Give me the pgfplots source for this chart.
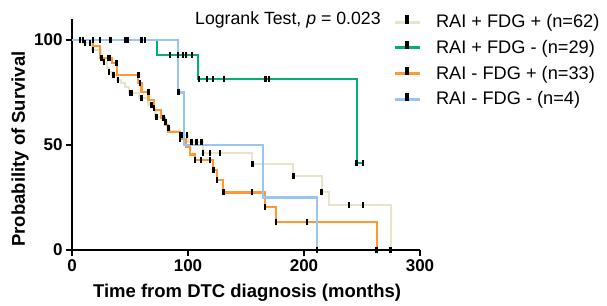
\documentclass[border=0pt]{standalone}
\usepackage{pgfplots}
\pgfplotsset{compat=1.18}
\usepackage{fontspec}
\setmainfont{Liberation Sans}
\definecolor{cbeige}{RGB}{233,227,202}
\definecolor{cgreen}{RGB}{0,177,115}
\definecolor{corange}{RGB}{255,153,51}
\definecolor{cblue}{RGB}{153,197,245}
\begin{document}
\begin{tikzpicture}
\path[use as bounding box] (-72pt,-55pt) rectangle (535pt,250pt);
\begin{axis}[
  at={(0,0)}, anchor=south west,
  scale only axis, width=348pt, height=231pt,
  xmin=0, xmax=300, ymin=0, ymax=110,
  clip=false,
  axis x line*=bottom, axis y line*=left,
  axis line style={line width=1.6pt, -},
  tick style={line width=1.6pt, black},
  major tick length=6pt, tick align=outside,
  xtick={0,100,200,300}, ytick={0,50,100},
  /pgf/number format/assume math mode=true,
  ticklabel style={font=\fontsize{17}{20}\selectfont\bfseries},
  xlabel={Time from DTC diagnosis (months)},
  ylabel={Probability of Survival},
  xlabel style={font=\fontsize{18.5}{22}\selectfont\bfseries, at={(axis description cs:0.503,-0.186)}, anchor=center},
  ylabel style={font=\fontsize{18.5}{22}\selectfont\bfseries, at={(axis description cs:-0.149,0.437)}, anchor=center},
  legend style={at={(0.922,1.028)}, anchor=north west, draw=none, fill=none,
    font=\fontsize{18.2}{21}\selectfont, row sep=7pt, inner sep=0pt,
    /tikz/every odd column/.append style={column sep=13pt}},
  legend cell align=left,
  legend image code/.code={
    \draw[#1, line width=3pt] (0pt,0pt) -- (25pt,0pt);
    \fill[black] (11.3pt,-0.5pt) rectangle (13.7pt,5.5pt);
  },
]
\addplot[cbeige, line width=2.2pt, const plot] coordinates {
(0,100) (10,98.4) (17,95.2) (25,91.3) (27,89.7) (30,86.5) (32,84.9) (35,83.3) (39,81) (42,79.4) (46,77.5) (49,74.6) (58,72.2) (66,69) (70,67.5) (72,63.5) (80,61.1) (82,58) (84,56.7) (93,54.8) (100,51.6) (113,46.3) (155.5,40.8) (190.8,35.2) (215.2,27.8) (221.8,21.4) (274.7,0)};
\addlegendentry{RAI + FDG + (n=62)}
\addplot[cgreen, line width=2.2pt, const plot] coordinates {
(0,100) (73,92.9) (108.6,81.3) (245.4,41.3) (251,41.3)};
\addlegendentry{RAI + FDG - (n=29)}
\addplot[corange, line width=2.2pt, const plot] coordinates {
(0,100) (18,97) (24,91.6) (34.5,88.9) (39,83.3) (57,79.4) (60,75.4) (66,71.4) (71,66.7) (77,63) (80,59.5) (83,56.3) (93,52.9) (98,49) (102,45.5) (106,42.9) (121.8,38.1) (125,33.3) (130.4,27.4) (166.4,20.3) (175.9,13.5) (262.6,0)};
\addlegendentry{RAI - FDG + (n=33)}
\addplot[cblue, line width=2.2pt, const plot] coordinates {
(0,100) (91.6,75) (96.5,50) (164.7,25) (211,0)};
\addlegendentry{RAI - FDG - (n=4)}
% censor marks
\addplot[forget plot, only marks, mark=|, mark size=3pt, mark options={black, line width=2.5pt}] coordinates {
(11,98.4)(15.5,98.4)(18,95.2)(25.6,91.3)(27.5,89.7)(32,84.9)(35.6,83.3)(39.5,81)(50,74.6)(51.5,74.6)(60,72.2)(68.7,69)(70.5,67.5)(73,63.5)(80.5,61.1)(83,58)(93,54.8)(95,54.8)(99,54.8)(103,51.6)(107.5,51.6)(111.8,51.6)(113,46.3)(119,46.3)(127.6,46.3)(155.5,40.8)(190.8,35.2)(215.2,27.8)(238.8,21.4)(251,21.4)(274.7,0)};
\addplot[forget plot, only marks, mark=|, mark size=3pt, mark options={black, line width=2.5pt}] coordinates {
(7,100)(9.5,100)(18,100)(24,100)(33,100)(46,100)(48,100)(60,100)(63,100)(84.5,92.9)(91.4,92.9)(95.7,92.9)(98.3,92.9)(103.4,92.9)(109.5,81.3)(116.4,81.3)(121.6,81.3)(131,81.3)(167,81.3)(170,81.3)(245.4,41.3)(251,41.3)};
\addplot[forget plot, only marks, mark=|, mark size=3pt, mark options={black, line width=2.5pt}] coordinates {
(31.3,91.6)(32.8,91.6)(38.5,88.9)(57.2,83.3)(58.6,79.4)(65.8,75.4)(78.7,63)(93,52.9)(106,42.9)(111,42.9)(119,42.9)(122,38.1)(125,33.3)(130.4,27.4)(155,27.4)(166.4,20.3)(175.9,13.5)(202.6,13.5)(262.6,0)};
\addplot[forget plot, only marks, mark=|, mark size=3pt, mark options={black, line width=2.5pt}] coordinates {
(92,75)(211,0)};
\node[anchor=base west, font=\fontsize{17.7}{20}\selectfont, inner sep=0pt] at (axis cs:106,107.6) {Logrank Test, {\itshape p} = 0.023};
\end{axis}
\end{tikzpicture}
\end{document}
